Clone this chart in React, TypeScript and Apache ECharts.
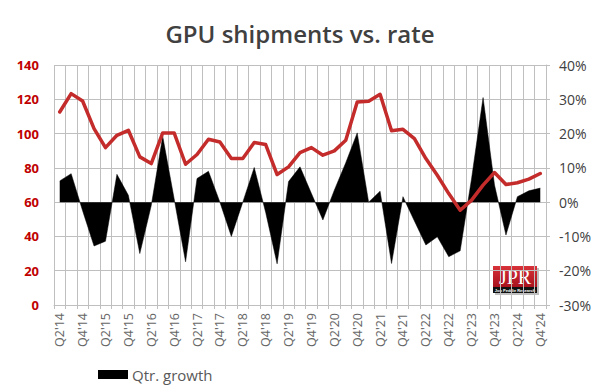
import React, { useEffect, useRef } from "react";
import * as echarts from "echarts";

const categories = [
  "Q2'14", "Q3'14", "Q4'14", "Q1'15", "Q2'15", "Q3'15", "Q4'15", "Q1'16", "Q2'16", "Q3'16", "Q4'16",
  "Q1'17", "Q2'17", "Q3'17", "Q4'17", "Q1'18", "Q2'18", "Q3'18", "Q4'18", "Q1'19", "Q2'19", "Q3'19",
  "Q4'19", "Q1'20", "Q2'20", "Q3'20", "Q4'20", "Q1'21", "Q2'21", "Q3'21", "Q4'21", "Q1'22", "Q2'22",
  "Q3'22", "Q4'22", "Q1'23", "Q2'23", "Q3'23", "Q4'23", "Q1'24", "Q2'24", "Q3'24", "Q4'24",
];

const shipments = [
  112.6, 123.3, 119, 102.9, 91.8, 99, 101.9, 86.4, 82.5, 100.4, 100.4,
  82.1, 87.8, 96.7, 95.1, 85.4, 85.4, 94.8, 93.6, 76.1, 80.6, 88.9,
  91.8, 87.4, 89.9, 96.1, 118.4, 118.8, 122.9, 101.6, 102.5, 97.1, 85.4,
  75.7, 65, 55.3, 61.2, 69.9, 77.3, 70.3, 71.3, 73.4, 76.7,
];

const qtrGrowth = [
  6.2, 8.3, -2.5, -12.8, -11.4, 8.1, 2, -15, -1, 19.2, 1,
  -17.4, 6.9, 9, 0, -10, 0, 10.1, -3, -18, 6, 10.3,
  2.5, -5.2, 3.5, 11.5, 20.2, 0, 3.2, -17.9, 1.6, -5.5, -12.5,
  -10.1, -15.9, -14.2, 7, 30.5, 5, -9.6, 1.6, 3.3, 4.1,
];

const FONT = "'Open Sans', 'Noto Sans', sans-serif";

export default function App() {
  const ref = useRef<HTMLDivElement>(null);
  useEffect(() => {
    if (!ref.current) return;
    const chart = echarts.init(ref.current, null, { renderer: "svg" });
    chart.setOption({
      animation: false,
      backgroundColor: "#ffffff",
      title: {
        text: "GPU shipments vs. rate",
        left: "center",
        top: 16,
        textStyle: { fontFamily: FONT, fontSize: 24, fontWeight: 600, color: "#404040" },
      },
      legend: {
        data: [{ name: "Qtr. growth", icon: "rect" }],
        left: 93,
        top: 362,
        itemWidth: 30,
        itemHeight: 9,
        itemGap: 4,
        textStyle: { fontFamily: FONT, fontSize: 15, color: "#595959", padding: [0, 0, 0, -1] },
      },
      grid: { left: 54, right: 54, top: 65, bottom: 87, containLabel: false },
      xAxis: {
        type: "category",
        data: categories,
        boundaryGap: true,
        axisLine: { show: true, lineStyle: { color: "#bfbfbf", width: 1 } },
        axisTick: { show: true, interval: 0, length: 4, lineStyle: { color: "#bfbfbf" } },
        splitLine: { show: true, interval: 0, lineStyle: { color: "#bfbfbf", width: 1 } },
        axisLabel: {
          interval: 1,
          rotate: 90,
          margin: 8,
          fontFamily: FONT,
          fontSize: 12.5,
          color: "#666666",
        },
      },
      yAxis: [
        {
          type: "value",
          min: 0,
          max: 140,
          interval: 20,
          position: "left",
          axisLine: { show: false },
          axisTick: { show: false },
          splitLine: { show: true, lineStyle: { color: "#bfbfbf", width: 1 } },
          axisLabel: { fontFamily: FONT, fontSize: 13, fontWeight: "bold", color: "#c00000", margin: 15 },
        },
        {
          type: "value",
          min: -30,
          max: 40,
          interval: 10,
          position: "right",
          axisLine: { show: true, lineStyle: { color: "#bfbfbf", width: 1 } },
          axisTick: { show: true, length: 4, lineStyle: { color: "#bfbfbf" } },
          splitLine: { show: false },
          axisLabel: {
            fontFamily: FONT,
            fontSize: 14,
            color: "#404040",
            margin: 13,
            formatter: (v: number) => `${v}%`,
          },
        },
      ],
      series: [
        {
          name: "Qtr. growth",
          type: "line",
          yAxisIndex: 1,
          data: qtrGrowth,
          symbol: "none",
          itemStyle: { color: "#000000" },
          lineStyle: { color: "#000000", width: 0.5 },
          areaStyle: { color: "#000000", opacity: 1, origin: "auto" },
          z: 2,
        },
        {
          name: "GPU shipments",
          type: "line",
          yAxisIndex: 0,
          data: shipments,
          symbol: "none",
          itemStyle: { color: "#c42b2b" },
          lineStyle: { color: "#c42b2b", width: 3.5, join: "round", cap: "round" },
          z: 3,
        },
      ],
      graphic: [
        {
          type: "group",
          left: 493,
          top: 266,
          z: 10,
          children: [
            { type: "rect", shape: { x: 2, y: 2, width: 44, height: 27 }, style: { fill: "rgba(0,0,0,0.25)" } },
            {
              type: "rect",
              shape: { x: 0, y: 0, width: 44, height: 21 },
              style: {
                fill: new echarts.graphic.LinearGradient(0, 0, 0, 1, [
                  { offset: 0, color: "#d8323a" },
                  { offset: 1, color: "#a8121c" },
                ]),
              },
            },
            { type: "rect", shape: { x: 0, y: 21, width: 44, height: 6 }, style: { fill: "#111111" } },
            {
              type: "text",
              x: 22,
              y: 11,
              style: {
                text: "JPR",
                fill: "#ffffff",
                font: "20px 'Liberation Serif', 'DejaVu Serif', serif",
                align: "center",
                verticalAlign: "middle",
              },
            },
            {
              type: "text",
              x: 22,
              y: 24,
              style: {
                text: "Jon Peddie Research",
                fill: "#ffffff",
                font: "bold 4px 'Liberation Sans', sans-serif",
                align: "center",
                verticalAlign: "middle",
              },
            },
          ],
        },
      ],
    });
    return () => chart.dispose();
  }, []);
  return <div ref={ref} style={{ width: 600, height: 392, position: "fixed", left: 0, top: 0 }} />;
}
